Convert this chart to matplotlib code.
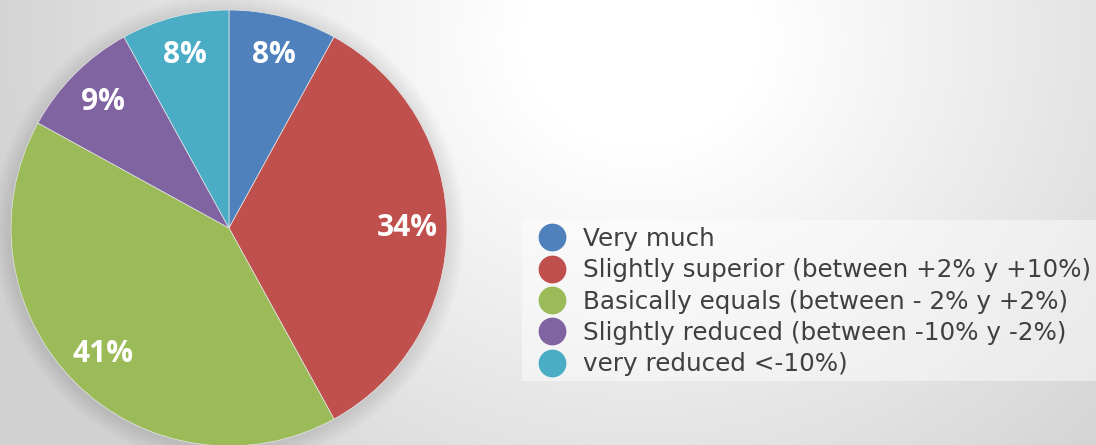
import numpy as np
import matplotlib.pyplot as plt
from matplotlib.lines import Line2D
from matplotlib.patches import Rectangle, Circle

labels = [
    "Very much",
    "Slightly superior (between +2% y +10%)",
    "Basically equals (between - 2% y +2%)",
    "Slightly reduced (between -10% y -2%)",
    "very reduced <-10%)",
]
shares = [8, 34, 41, 9, 8]
colors = ["#4F81BD", "#C0504D", "#9BBB59", "#8064A2", "#4BACC6"]

W, H = 1096, 445
fig = plt.figure(figsize=(W / 100, H / 100), dpi=100)

# soft radial backdrop: white near the top middle, grey towards the edges
bg = fig.add_axes([0, 0, 1, 1])
yy, xx = np.mgrid[0:H, 0:W]
d = np.hypot((xx - 640) / 1.0, (yy - 40) / 0.9)
t = np.clip((d - 120) / 560, 0, 1)
shade = 1.0 - 0.18 * t
bg.imshow(np.dstack([shade] * 3), extent=[0, W, H, 0], aspect="auto")
bg.set_xlim(0, W)
bg.set_ylim(H, 0)
bg.axis("off")

# pie centred at (229, 228) px, radius 218 px
cx, cy, r = 229, 228, 218
ax = fig.add_axes([(cx - r) / W, (H - cy - r) / H, 2 * r / W, 2 * r / H])
ax.set_xlim(-1, 1)
ax.set_ylim(-1, 1)
ax.set_aspect("equal")
ax.axis("off")

# faint drop shadow around the pie
for k in range(8):
    ax.add_patch(Circle((0.0, -0.01), 1.0 + 0.01 * (k + 1), color="black",
                        alpha=0.01, lw=0, zorder=0, clip_on=False))

wedges, texts, autotexts = ax.pie(
    shares, colors=colors, startangle=90, counterclock=False,
    autopct=lambda p: f"{p:.0f}%", pctdistance=0.82, radius=1.0,
    wedgeprops=dict(linewidth=0.5, edgecolor="#e6e6e6"),
    textprops=dict(color="white", fontsize=21.5, fontweight="bold",
                   family="Open Sans"),
)
for w in wedges:
    w.set_clip_on(False)
ax.set_xlim(-1, 1)
ax.set_ylim(-1, 1)

# pale band behind the legend
fig.patches.append(Rectangle((522 / W, (H - 381) / H), (W - 522) / W, 161 / H,
                             transform=fig.transFigure, facecolor="white",
                             alpha=0.45, lw=0, zorder=1))

handles = [Line2D([], [], marker="o", linestyle="", markersize=19,
                  markerfacecolor=c, markeredgecolor=c) for c in colors]
fig.legend(handles, labels, loc="upper left",
           bbox_to_anchor=(524 / W, (H - 211) / H), frameon=False,
           labelcolor="#404040", handlelength=1.0,
           handletextpad=0.75, labelspacing=0.3, borderpad=0.15,
           prop=dict(family="DejaVu Sans", size=17.7))

fig.savefig("out.png", dpi=100)
